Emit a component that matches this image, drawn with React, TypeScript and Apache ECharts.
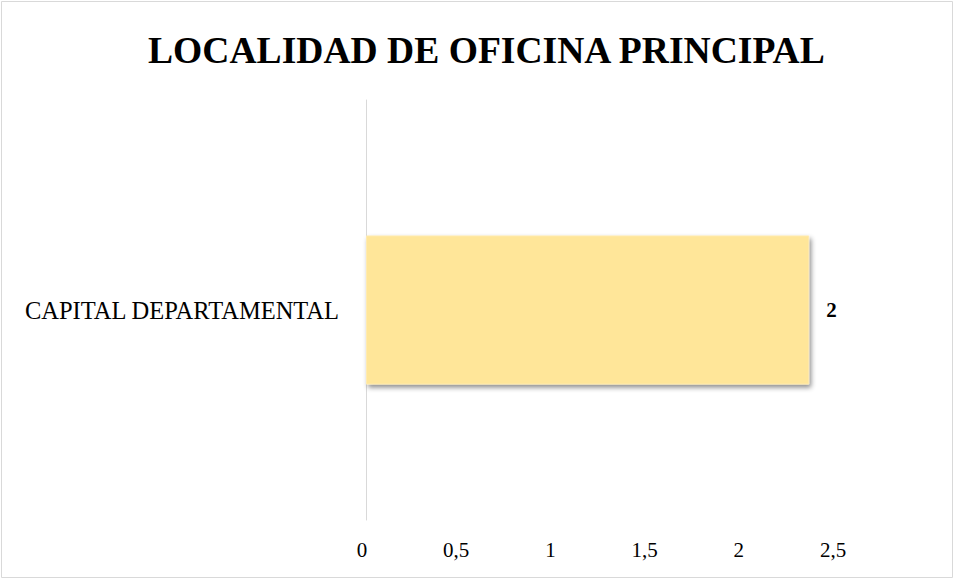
import React, { useEffect, useRef } from "react";
import * as echarts from "echarts";

const categories = ["CAPITAL DEPARTAMENTAL"];
const values = [2];
const xMin = 0;
const xMax = 2.5;
const xInterval = 0.5;
const titleText = "LOCALIDAD DE OFICINA PRINCIPAL";

const FONT = "'Liberation Serif', 'Times New Roman', serif";

export default function App() {
  const ref = useRef<HTMLDivElement>(null);
  useEffect(() => {
    document.body.style.margin = "0";
    const chart = echarts.init(ref.current!, null, { renderer: "svg" });
    const fmt = (v: number) => String(v).replace(".", ",");
    chart.setOption({
      animation: false,
      backgroundColor: "#ffffff",
      title: {
        text: titleText,
        left: 148,
        top: 31,
        padding: 0,
        textStyle: { fontFamily: FONT, fontSize: 37.6, fontWeight: "bold", color: "#000" },
      },
      graphic: [
        {
          type: "rect",
          shape: { x: 1.5, y: 1.5, width: 951, height: 576 },
          style: { fill: "none", stroke: "#d9d9d9", lineWidth: 1 },
          silent: true,
        },
      ],
      grid: [
        { left: 366, right: 34, top: 100, bottom: 59 },
        { left: 362, width: 471, top: 100, bottom: 59 },
      ],
      xAxis: [
        {
          type: "value",
          gridIndex: 0,
          min: xMin,
          max: xMax,
          interval: xInterval,
          axisLine: { show: false },
          axisTick: { show: false },
          axisLabel: { show: false },
          splitLine: { show: false },
        },
        {
          type: "value",
          gridIndex: 1,
          min: xMin,
          max: xMax,
          interval: xInterval,
          axisLine: { show: false },
          axisTick: { show: false },
          splitLine: { show: false },
          axisLabel: {
            show: true,
            margin: 19,
            fontFamily: FONT,
            fontSize: 21,
            color: "#000",
            formatter: fmt,
          },
        },
      ],
      yAxis: [
        {
          type: "category",
          gridIndex: 0,
          data: categories,
          axisLine: { show: true, lineStyle: { color: "#d9d9d9", width: 1 } },
          axisTick: { show: false },
          axisLabel: { margin: 27, fontFamily: FONT, fontSize: 24.5, color: "#000" },
          splitLine: { show: false },
        },
        {
          type: "category",
          gridIndex: 1,
          data: categories,
          show: false,
        },
      ],
      series: [
        {
          type: "bar",
          xAxisIndex: 0,
          yAxisIndex: 0,
          data: values,
          barWidth: "35.5%",
          itemStyle: {
            color: "#FFE699",
            borderColor: "#FFEBB0",
            borderWidth: 1,
            shadowColor: "rgba(0,0,0,0.45)",
            shadowBlur: 5,
            shadowOffsetX: 2,
            shadowOffsetY: 3,
          },
          label: {
            show: true,
            position: "right",
            distance: 17,
            fontFamily: FONT,
            fontSize: 21,
            fontWeight: "bold",
            color: "#000",
            formatter: (p: any) => fmt(p.value),
          },
        },
      ],
    });
    return () => chart.dispose();
  }, []);
  return <div ref={ref} style={{ width: 954, height: 579 }} />;
}
